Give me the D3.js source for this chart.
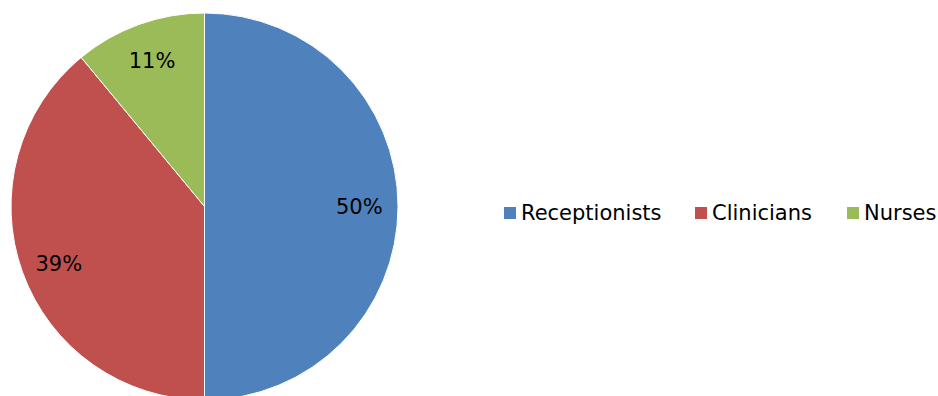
<!DOCTYPE html>
<html>
<head>
<meta charset="utf-8">
<script src="https://cdn.jsdelivr.net/npm/d3@7"></script>
<style>
  body { margin: 0; background: #fff; }
  text { font-family: "DejaVu Sans", sans-serif; fill: #000; }
</style>
</head>
<body>
<script>
var width = 938
var height = 396

var categories = ["Receptionists", "Clinicians", "Nurses"]
var values = [50, 39, 11]
var colors = ["#4F81BD", "#C0504D", "#9BBB59"]

var cx = 204.5, cy = 206.5, radius = 193.5

const svg = d3.select("body").append("svg")
  .attr("width", width)
  .attr("height", height)

const color = d3.scaleOrdinal().domain(categories).range(colors)

const pie = d3.pie().sort(null).value(d => d.value)
const data = pie(categories.map((c, i) => ({ name: c, value: values[i] })))

const arc = d3.arc().innerRadius(0).outerRadius(radius)
const labelArc = d3.arc().innerRadius(radius * 0.8).outerRadius(radius * 0.8)

const g = svg.append("g").attr("transform", `translate(${cx},${cy})`)

g.selectAll("path")
  .data(data)
  .join("path")
  .attr("d", arc)
  .attr("fill", d => color(d.data.name))
  .attr("stroke", "#fff")
  .attr("stroke-width", 1)

g.selectAll("text")
  .data(data)
  .join("text")
  .attr("transform", d => {
    var c = labelArc.centroid(d)
    return `translate(${c[0]},${c[1] + (c[1] > 20 ? 5 : 0)})`
  })
  .attr("text-anchor", "middle")
  .attr("dy", "0.35em")
  .style("font-size", "21px")
  .text(d => d.data.value + "%")

// legend
var legendX = [504, 695, 847]
const legend = svg.append("g")
  .selectAll("g")
  .data(categories)
  .join("g")
  .attr("transform", (d, i) => `translate(${legendX[i]},207)`)

legend.append("rect")
  .attr("width", 12)
  .attr("height", 12)
  .attr("fill", d => color(d))

legend.append("text")
  .attr("x", 17)
  .attr("y", 6)
  .attr("dy", "0.35em")
  .style("font-size", "21px")
  .text(d => d)
</script>
</body>
</html>
